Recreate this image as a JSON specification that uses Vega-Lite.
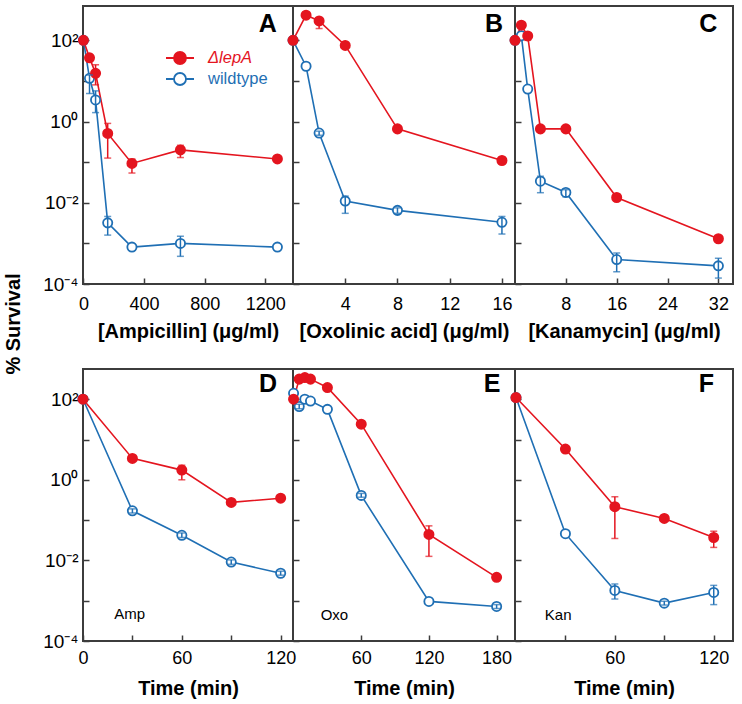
{
  "$schema": "https://vega.github.io/schema/vega-lite/v6.json",
  "padding": {"left": 3, "top": 5, "right": 5, "bottom": 5},
  "config": {
    "font": "Liberation Sans",
    "view": {"stroke": "#3c3c3c", "strokeWidth": 2},
    "axis": {
      "grid": false, "domain": false, "tickColor": "#3c3c3c", "tickSize": -6, "tickWidth": 1.5,
      "labelFont": "Liberation Sans", "labelFontSize": 18, "labelColor": "black",
      "titleFont": "Liberation Sans", "titleFontSize": 20, "titleFontWeight": "bold", "titleColor": "black",
      "labelOverlap": false, "labelFlush": false, "format": "d"
    },
    "title": {"font": "Liberation Sans"}
  },
  "title": {"text": "% Survival", "orient": "left", "anchor": "middle", "fontSize": 20, "fontWeight": "bold", "offset": 18, "color": "black", "dx": 28},
  "datasets": {
    "pts": [
      {"panel": "A", "strain": "wildtype", "x": 0, "y": 100},
      {"panel": "A", "strain": "wildtype", "x": 40, "y": 11.6, "lo": 4.9, "hi": 14},
      {"panel": "A", "strain": "wildtype", "x": 80, "y": 3.4, "lo": 1.66, "hi": 5.7},
      {"panel": "A", "strain": "wildtype", "x": 160, "y": 0.0032, "lo": 0.0016, "hi": 0.0046},
      {"panel": "A", "strain": "wildtype", "x": 320, "y": 0.00081},
      {"panel": "A", "strain": "wildtype", "x": 640, "y": 0.001, "lo": 0.00048, "hi": 0.0015},
      {"panel": "A", "strain": "wildtype", "x": 1280, "y": 0.00081},
      {"panel": "A", "strain": "ΔlepA", "x": 0, "y": 100},
      {"panel": "A", "strain": "ΔlepA", "x": 40, "y": 37, "lo": 30, "hi": 45},
      {"panel": "A", "strain": "ΔlepA", "x": 80, "y": 15.4, "lo": 8, "hi": 25},
      {"panel": "A", "strain": "ΔlepA", "x": 160, "y": 0.51, "lo": 0.126, "hi": 0.9},
      {"panel": "A", "strain": "ΔlepA", "x": 320, "y": 0.093, "lo": 0.054, "hi": 0.12},
      {"panel": "A", "strain": "ΔlepA", "x": 640, "y": 0.2, "lo": 0.13, "hi": 0.26},
      {"panel": "A", "strain": "ΔlepA", "x": 1280, "y": 0.12},
      {"panel": "B", "strain": "wildtype", "x": 0, "y": 100},
      {"panel": "B", "strain": "wildtype", "x": 1, "y": 23},
      {"panel": "B", "strain": "wildtype", "x": 2, "y": 0.52, "lo": 0.46, "hi": 0.58},
      {"panel": "B", "strain": "wildtype", "x": 4, "y": 0.011, "lo": 0.0055, "hi": 0.0146},
      {"panel": "B", "strain": "wildtype", "x": 8, "y": 0.0065, "lo": 0.0055, "hi": 0.0075},
      {"panel": "B", "strain": "wildtype", "x": 16, "y": 0.0033, "lo": 0.0017, "hi": 0.0046},
      {"panel": "B", "strain": "ΔlepA", "x": 0, "y": 100},
      {"panel": "B", "strain": "ΔlepA", "x": 1, "y": 417},
      {"panel": "B", "strain": "ΔlepA", "x": 2, "y": 300, "lo": 195, "hi": 330},
      {"panel": "B", "strain": "ΔlepA", "x": 4, "y": 75},
      {"panel": "B", "strain": "ΔlepA", "x": 8, "y": 0.66, "lo": 0.55, "hi": 0.75},
      {"panel": "B", "strain": "ΔlepA", "x": 16, "y": 0.11, "lo": 0.09, "hi": 0.13},
      {"panel": "C", "strain": "wildtype", "x": 0, "y": 100},
      {"panel": "C", "strain": "wildtype", "x": 1, "y": 130},
      {"panel": "C", "strain": "wildtype", "x": 2, "y": 6.3},
      {"panel": "C", "strain": "wildtype", "x": 4, "y": 0.034, "lo": 0.0177, "hi": 0.045},
      {"panel": "C", "strain": "wildtype", "x": 8, "y": 0.018, "lo": 0.014, "hi": 0.021},
      {"panel": "C", "strain": "wildtype", "x": 16, "y": 0.0004, "lo": 0.0002, "hi": 0.00058},
      {"panel": "C", "strain": "wildtype", "x": 32, "y": 0.00028, "lo": 0.00014, "hi": 0.00043},
      {"panel": "C", "strain": "ΔlepA", "x": 0, "y": 100},
      {"panel": "C", "strain": "ΔlepA", "x": 1, "y": 236},
      {"panel": "C", "strain": "ΔlepA", "x": 2, "y": 128, "lo": 100, "hi": 150},
      {"panel": "C", "strain": "ΔlepA", "x": 4, "y": 0.66},
      {"panel": "C", "strain": "ΔlepA", "x": 8, "y": 0.66},
      {"panel": "C", "strain": "ΔlepA", "x": 16, "y": 0.0135, "lo": 0.011, "hi": 0.016},
      {"panel": "C", "strain": "ΔlepA", "x": 32, "y": 0.0013, "lo": 0.0011, "hi": 0.0015},
      {"panel": "D", "strain": "wildtype", "x": 0, "y": 100},
      {"panel": "D", "strain": "wildtype", "x": 30, "y": 0.17, "lo": 0.15, "hi": 0.19},
      {"panel": "D", "strain": "wildtype", "x": 60, "y": 0.042, "lo": 0.037, "hi": 0.048},
      {"panel": "D", "strain": "wildtype", "x": 90, "y": 0.0091, "lo": 0.008, "hi": 0.0103},
      {"panel": "D", "strain": "wildtype", "x": 120, "y": 0.0048, "lo": 0.0043, "hi": 0.0054},
      {"panel": "D", "strain": "ΔlepA", "x": 0, "y": 100},
      {"panel": "D", "strain": "ΔlepA", "x": 30, "y": 3.4},
      {"panel": "D", "strain": "ΔlepA", "x": 60, "y": 1.74, "lo": 1.0, "hi": 2.3},
      {"panel": "D", "strain": "ΔlepA", "x": 90, "y": 0.275},
      {"panel": "D", "strain": "ΔlepA", "x": 120, "y": 0.35},
      {"panel": "E", "strain": "wildtype", "x": 0, "y": 140},
      {"panel": "E", "strain": "wildtype", "x": 5, "y": 66, "lo": 58, "hi": 75},
      {"panel": "E", "strain": "wildtype", "x": 10, "y": 100},
      {"panel": "E", "strain": "wildtype", "x": 15, "y": 90},
      {"panel": "E", "strain": "wildtype", "x": 30, "y": 56},
      {"panel": "E", "strain": "wildtype", "x": 60, "y": 0.41, "lo": 0.37, "hi": 0.46},
      {"panel": "E", "strain": "wildtype", "x": 120, "y": 0.00096},
      {"panel": "E", "strain": "wildtype", "x": 180, "y": 0.00072, "lo": 0.00064, "hi": 0.0008},
      {"panel": "E", "strain": "ΔlepA", "x": 0, "y": 100},
      {"panel": "E", "strain": "ΔlepA", "x": 5, "y": 315},
      {"panel": "E", "strain": "ΔlepA", "x": 10, "y": 345},
      {"panel": "E", "strain": "ΔlepA", "x": 15, "y": 315},
      {"panel": "E", "strain": "ΔlepA", "x": 30, "y": 195},
      {"panel": "E", "strain": "ΔlepA", "x": 60, "y": 24},
      {"panel": "E", "strain": "ΔlepA", "x": 120, "y": 0.044, "lo": 0.0126, "hi": 0.072},
      {"panel": "E", "strain": "ΔlepA", "x": 180, "y": 0.0038},
      {"panel": "F", "strain": "wildtype", "x": 0, "y": 110},
      {"panel": "F", "strain": "wildtype", "x": 30, "y": 0.046},
      {"panel": "F", "strain": "wildtype", "x": 60, "y": 0.0018, "lo": 0.0011, "hi": 0.0026},
      {"panel": "F", "strain": "wildtype", "x": 90, "y": 0.00087, "lo": 0.00078, "hi": 0.00097},
      {"panel": "F", "strain": "wildtype", "x": 120, "y": 0.0016, "lo": 0.0008, "hi": 0.0024},
      {"panel": "F", "strain": "ΔlepA", "x": 0, "y": 110},
      {"panel": "F", "strain": "ΔlepA", "x": 30, "y": 5.8},
      {"panel": "F", "strain": "ΔlepA", "x": 60, "y": 0.215, "lo": 0.035, "hi": 0.38},
      {"panel": "F", "strain": "ΔlepA", "x": 90, "y": 0.11, "lo": 0.095, "hi": 0.125},
      {"panel": "F", "strain": "ΔlepA", "x": 120, "y": 0.037, "lo": 0.021, "hi": 0.053}
    ],
    "notes": [
      {"panel": "A", "kind": "letter", "label": "A", "x": 1216, "y": 252},
      {"panel": "B", "kind": "letter", "label": "B", "x": 15.4, "y": 252},
      {"panel": "C", "kind": "letter", "label": "C", "x": 30.4, "y": 252},
      {"panel": "D", "kind": "letter", "label": "D", "x": 112.3, "y": 240},
      {"panel": "E", "kind": "letter", "label": "E", "x": 176, "y": 240},
      {"panel": "F", "kind": "letter", "label": "F", "x": 115.6, "y": 240},
      {"panel": "D", "kind": "drug", "label": "Amp", "x": 28.4, "y": 0.00048},
      {"panel": "E", "kind": "drug", "label": "Oxo", "x": 36.2, "y": 0.00045},
      {"panel": "F", "kind": "drug", "label": "Kan", "x": 25.6, "y": 0.00044}
    ]
  },
  "columns": 3,
  "spacing": {"row": 85, "column": 0},
  "bounds": "flush",
  "concat": [
    {
      "width": 210, "height": 278,
      "data": {"name": "pts"},
      "encoding": {
        "x": {"field": "x", "type": "quantitative", "title": "[Ampicillin] (μg/ml)",
              "scale": {"domain": [-3, 1383], "nice": false, "zero": false},
              "axis": {"values": [0, 400, 800, 1200], "labelPadding": 17, "titlePadding": 8}},
        "y": {"field": "y", "type": "quantitative", "title": null,
              "scale": {"type": "log", "domain": [0.0001, 700], "nice": false},
              "axis": {"values": [0.0001, 0.001, 0.01, 0.1, 1, 10, 100], "labelFontSize": 19, "labelPadding": 11,
                       "labelExpr": "round(log(datum.value)/LN10) == 2 ? '10²' : round(log(datum.value)/LN10) == 0 ? '10⁰' : round(log(datum.value)/LN10) == -2 ? '10⁻²' : round(log(datum.value)/LN10) == -4 ? '10⁻⁴' : ''"}}
      },
      "layer": [
        {"transform": [{"filter": "datum.panel === 'A'"}],
         "mark": {"type": "line", "strokeWidth": 1.6},
         "encoding": {"stroke": {"field": "strain", "type": "nominal",
           "scale": {"domain": ["ΔlepA", "wildtype"], "range": ["#e4151f", "#1f6fb4"]},
           "legend": {"orient": "none", "legendX": 86, "legendY": 41, "title": null,
               "symbolType": "M-1.4,0H-0.6M0.6,0H1.4M0.6,0A0.6,0.6,0,1,1,-0.6,0A0.6,0.6,0,1,1,0.6,0Z",
               "symbolSize": 400, "symbolStrokeWidth": 1.8, "symbolOpacity": 1, "labelFontSize": 16.5, "labelOffset": 17, "rowPadding": 0,
               "labelFont": "Liberation Sans",
               "encode": {"labels": {"update": {"fill": {"signal": "datum.value === 'wildtype' ? '#1f6fb4' : '#e4151f'"}, "fontStyle": {"signal": "datum.value === 'wildtype' ? 'normal' : 'italic'"}}}}}}}},
        {"transform": [{"filter": "datum.panel === 'A'"}],
         "mark": {"type": "point", "filled": true, "size": 85, "strokeWidth": 1.8, "opacity": 1},
         "encoding": {
           "stroke": {"field": "strain", "type": "nominal"},
           "fill": {"field": "strain", "type": "nominal",
             "scale": {"domain": ["ΔlepA", "wildtype"], "range": ["#e4151f", "white"]},
             "legend": {"orient": "none", "legendX": 86, "legendY": 41, "title": null,
               "symbolType": "M-1.4,0H-0.6M0.6,0H1.4M0.6,0A0.6,0.6,0,1,1,-0.6,0A0.6,0.6,0,1,1,0.6,0Z",
               "symbolSize": 400, "symbolStrokeWidth": 1.8, "symbolOpacity": 1, "labelFontSize": 16.5, "labelOffset": 17, "rowPadding": 0,
               "labelFont": "Liberation Sans",
               "encode": {"labels": {"update": {"fill": {"signal": "datum.value === 'wildtype' ? '#1f6fb4' : '#e4151f'"}, "fontStyle": {"signal": "datum.value === 'wildtype' ? 'normal' : 'italic'"}}}}}}}},
        {"transform": [{"filter": "datum.panel === 'A' && isValid(datum.lo)"}],
         "mark": {"type": "errorbar", "ticks": {"size": 7, "thickness": 1.5}, "rule": {"strokeWidth": 1.5}},
         "encoding": {"y": {"field": "lo", "type": "quantitative"}, "y2": {"field": "hi"},
           "color": {"field": "strain", "type": "nominal", "scale": {"domain": ["ΔlepA", "wildtype"], "range": ["#e4151f", "#1f6fb4"]}, "legend": null}}},
        {"data": {"name": "notes"}, "transform": [{"filter": "datum.panel === 'A' && datum.kind === 'letter'"}],
         "mark": {"type": "text", "fontSize": 25, "fontWeight": "bold", "color": "black", "baseline": "middle"},
         "encoding": {"text": {"field": "label"}}}
      ]
    },
    {
      "width": 222, "height": 278,
      "data": {"name": "pts"},
      "encoding": {
        "x": {"field": "x", "type": "quantitative", "title": "[Oxolinic acid] (μg/ml)",
              "scale": {"domain": [0, 17], "nice": false, "zero": false},
              "axis": {"values": [4, 8, 12, 16], "labelPadding": 17, "titlePadding": 8}},
        "y": {"field": "y", "type": "quantitative", "title": null,
              "scale": {"type": "log", "domain": [0.0001, 700], "nice": false},
              "axis": {"values": [0.0001, 0.001, 0.01, 0.1, 1, 10, 100], "labels": false}}
      },
      "layer": [
        {"transform": [{"filter": "datum.panel === 'B'"}],
         "mark": {"type": "line", "strokeWidth": 1.6},
         "encoding": {"stroke": {"field": "strain", "type": "nominal", "legend": null}}},
        {"transform": [{"filter": "datum.panel === 'B'"}],
         "mark": {"type": "point", "filled": true, "size": 85, "strokeWidth": 1.8, "opacity": 1},
         "encoding": {"stroke": {"field": "strain", "type": "nominal", "legend": null},
           "fill": {"field": "strain", "type": "nominal", "legend": null}}},
        {"transform": [{"filter": "datum.panel === 'B' && isValid(datum.lo)"}],
         "mark": {"type": "errorbar", "ticks": {"size": 7, "thickness": 1.5}, "rule": {"strokeWidth": 1.5}},
         "encoding": {"y": {"field": "lo", "type": "quantitative"}, "y2": {"field": "hi"},
           "color": {"field": "strain", "type": "nominal", "legend": null}}},
        {"data": {"name": "notes"}, "transform": [{"filter": "datum.panel === 'B' && datum.kind === 'letter'"}],
         "mark": {"type": "text", "fontSize": 25, "fontWeight": "bold", "color": "black", "baseline": "middle"},
         "encoding": {"text": {"field": "label"}}}
      ]
    },
    {
      "width": 218, "height": 278,
      "data": {"name": "pts"},
      "encoding": {
        "x": {"field": "x", "type": "quantitative", "title": "[Kanamycin] (μg/ml)",
              "scale": {"domain": [0, 34.3], "nice": false, "zero": false},
              "axis": {"values": [8, 16, 24, 32], "labelPadding": 17, "titlePadding": 8}},
        "y": {"field": "y", "type": "quantitative", "title": null,
              "scale": {"type": "log", "domain": [0.0001, 700], "nice": false},
              "axis": {"values": [0.0001, 0.001, 0.01, 0.1, 1, 10, 100], "labels": false}}
      },
      "layer": [
        {"transform": [{"filter": "datum.panel === 'C'"}],
         "mark": {"type": "line", "strokeWidth": 1.6},
         "encoding": {"stroke": {"field": "strain", "type": "nominal", "legend": null}}},
        {"transform": [{"filter": "datum.panel === 'C'"}],
         "mark": {"type": "point", "filled": true, "size": 85, "strokeWidth": 1.8, "opacity": 1},
         "encoding": {"stroke": {"field": "strain", "type": "nominal", "legend": null},
           "fill": {"field": "strain", "type": "nominal", "legend": null}}},
        {"transform": [{"filter": "datum.panel === 'C' && isValid(datum.lo)"}],
         "mark": {"type": "errorbar", "ticks": {"size": 7, "thickness": 1.5}, "rule": {"strokeWidth": 1.5}},
         "encoding": {"y": {"field": "lo", "type": "quantitative"}, "y2": {"field": "hi"},
           "color": {"field": "strain", "type": "nominal", "legend": null}}},
        {"data": {"name": "notes"}, "transform": [{"filter": "datum.panel === 'C' && datum.kind === 'letter'"}],
         "mark": {"type": "text", "fontSize": 25, "fontWeight": "bold", "color": "black", "baseline": "middle"},
         "encoding": {"text": {"field": "label"}}}
      ]
    },
    {
      "width": 210, "height": 272,
      "data": {"name": "pts"},
      "encoding": {
        "x": {"field": "x", "type": "quantitative", "title": "Time (min)",
              "scale": {"domain": [0, 127.5], "nice": false, "zero": false},
              "axis": {"values": [0, 30, 60, 90, 120], "labelExpr": "datum.value % 60 == 0 ? datum.label : ''", "labelPadding": 14, "titlePadding": 11}},
        "y": {"field": "y", "type": "quantitative", "title": null,
              "scale": {"type": "log", "domain": [0.0001, 562], "nice": false},
              "axis": {"values": [0.0001, 0.001, 0.01, 0.1, 1, 10, 100], "labelFontSize": 19, "labelPadding": 11,
                       "labelExpr": "round(log(datum.value)/LN10) == 2 ? '10²' : round(log(datum.value)/LN10) == 0 ? '10⁰' : round(log(datum.value)/LN10) == -2 ? '10⁻²' : round(log(datum.value)/LN10) == -4 ? '10⁻⁴' : ''"}}
      },
      "layer": [
        {"transform": [{"filter": "datum.panel === 'D'"}],
         "mark": {"type": "line", "strokeWidth": 1.6},
         "encoding": {"stroke": {"field": "strain", "type": "nominal", "legend": null}}},
        {"transform": [{"filter": "datum.panel === 'D'"}],
         "mark": {"type": "point", "filled": true, "size": 85, "strokeWidth": 1.8, "opacity": 1},
         "encoding": {"stroke": {"field": "strain", "type": "nominal", "legend": null},
           "fill": {"field": "strain", "type": "nominal", "legend": null}}},
        {"transform": [{"filter": "datum.panel === 'D' && isValid(datum.lo)"}],
         "mark": {"type": "errorbar", "ticks": {"size": 7, "thickness": 1.5}, "rule": {"strokeWidth": 1.5}},
         "encoding": {"y": {"field": "lo", "type": "quantitative"}, "y2": {"field": "hi"},
           "color": {"field": "strain", "type": "nominal", "legend": null}}},
        {"data": {"name": "notes"}, "transform": [{"filter": "datum.panel === 'D' && datum.kind === 'letter'"}],
         "mark": {"type": "text", "fontSize": 25, "fontWeight": "bold", "color": "black", "baseline": "middle"},
         "encoding": {"text": {"field": "label"}}},
        {"data": {"name": "notes"}, "transform": [{"filter": "datum.panel === 'D' && datum.kind === 'drug'"}],
         "mark": {"type": "text", "fontSize": 15, "color": "black", "baseline": "middle"},
         "encoding": {"text": {"field": "label"}}}
      ]
    },
    {
      "width": 222, "height": 272,
      "data": {"name": "pts"},
      "encoding": {
        "x": {"field": "x", "type": "quantitative", "title": "Time (min)",
              "scale": {"domain": [-0.5, 196.3], "nice": false, "zero": false},
              "axis": {"values": [60, 120, 180], "labelPadding": 14, "titlePadding": 11}},
        "y": {"field": "y", "type": "quantitative", "title": null,
              "scale": {"type": "log", "domain": [0.0001, 562], "nice": false},
              "axis": {"values": [0.0001, 0.001, 0.01, 0.1, 1, 10, 100], "labels": false}}
      },
      "layer": [
        {"transform": [{"filter": "datum.panel === 'E'"}],
         "mark": {"type": "line", "strokeWidth": 1.6},
         "encoding": {"stroke": {"field": "strain", "type": "nominal", "legend": null}}},
        {"transform": [{"filter": "datum.panel === 'E'"}],
         "mark": {"type": "point", "filled": true, "size": 85, "strokeWidth": 1.8, "opacity": 1},
         "encoding": {"stroke": {"field": "strain", "type": "nominal", "legend": null},
           "fill": {"field": "strain", "type": "nominal", "legend": null}}},
        {"transform": [{"filter": "datum.panel === 'E' && isValid(datum.lo)"}],
         "mark": {"type": "errorbar", "ticks": {"size": 7, "thickness": 1.5}, "rule": {"strokeWidth": 1.5}},
         "encoding": {"y": {"field": "lo", "type": "quantitative"}, "y2": {"field": "hi"},
           "color": {"field": "strain", "type": "nominal", "legend": null}}},
        {"data": {"name": "notes"}, "transform": [{"filter": "datum.panel === 'E' && datum.kind === 'letter'"}],
         "mark": {"type": "text", "fontSize": 25, "fontWeight": "bold", "color": "black", "baseline": "middle"},
         "encoding": {"text": {"field": "label"}}},
        {"data": {"name": "notes"}, "transform": [{"filter": "datum.panel === 'E' && datum.kind === 'drug'"}],
         "mark": {"type": "text", "fontSize": 15, "color": "black", "baseline": "middle"},
         "encoding": {"text": {"field": "label"}}}
      ]
    },
    {
      "width": 218, "height": 272,
      "data": {"name": "pts"},
      "encoding": {
        "x": {"field": "x", "type": "quantitative", "title": "Time (min)",
              "scale": {"domain": [-0.6, 131.7], "nice": false, "zero": false},
              "axis": {"values": [30, 60, 90, 120], "labelExpr": "datum.value % 60 == 0 ? datum.label : ''", "labelPadding": 14, "titlePadding": 11}},
        "y": {"field": "y", "type": "quantitative", "title": null,
              "scale": {"type": "log", "domain": [0.0001, 562], "nice": false},
              "axis": {"values": [0.0001, 0.001, 0.01, 0.1, 1, 10, 100], "labels": false}}
      },
      "layer": [
        {"transform": [{"filter": "datum.panel === 'F'"}],
         "mark": {"type": "line", "strokeWidth": 1.6},
         "encoding": {"stroke": {"field": "strain", "type": "nominal", "legend": null}}},
        {"transform": [{"filter": "datum.panel === 'F'"}],
         "mark": {"type": "point", "filled": true, "size": 85, "strokeWidth": 1.8, "opacity": 1},
         "encoding": {"stroke": {"field": "strain", "type": "nominal", "legend": null},
           "fill": {"field": "strain", "type": "nominal", "legend": null}}},
        {"transform": [{"filter": "datum.panel === 'F' && isValid(datum.lo)"}],
         "mark": {"type": "errorbar", "ticks": {"size": 7, "thickness": 1.5}, "rule": {"strokeWidth": 1.5}},
         "encoding": {"y": {"field": "lo", "type": "quantitative"}, "y2": {"field": "hi"},
           "color": {"field": "strain", "type": "nominal", "legend": null}}},
        {"data": {"name": "notes"}, "transform": [{"filter": "datum.panel === 'F' && datum.kind === 'letter'"}],
         "mark": {"type": "text", "fontSize": 25, "fontWeight": "bold", "color": "black", "baseline": "middle"},
         "encoding": {"text": {"field": "label"}}},
        {"data": {"name": "notes"}, "transform": [{"filter": "datum.panel === 'F' && datum.kind === 'drug'"}],
         "mark": {"type": "text", "fontSize": 15, "color": "black", "baseline": "middle"},
         "encoding": {"text": {"field": "label"}}}
      ]
    }
  ]
}
